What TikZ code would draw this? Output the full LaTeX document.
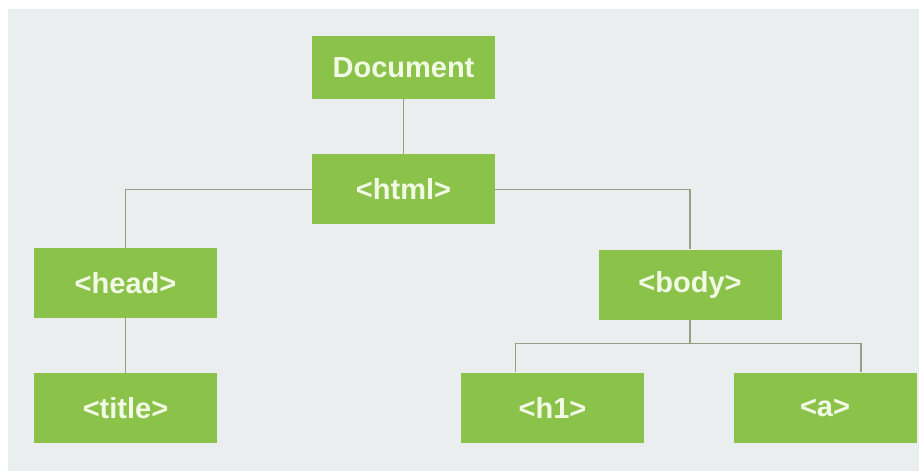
\documentclass[tikz,border=0pt]{standalone}
\usepackage{fontspec}
\setsansfont{Liberation Sans}
\usetikzlibrary{positioning}
\usepackage{xcolor}

\definecolor{leafgreen}{RGB}{139,195,74}
\definecolor{paper}{RGB}{234,238,239}
\definecolor{twig}{RGB}{150,160,128}
\definecolor{tagtext}{RGB}{242,250,230}

\begin{document}
\begin{tikzpicture}[
    x=1pt, y=1pt,
    tag/.style={draw=none, rectangle, fill=leafgreen, minimum width=183pt, minimum height=70pt, inner sep=0pt, text=tagtext, font=\sffamily\bfseries\fontsize{29}{31}\selectfont},
    link/.style={draw=twig, line width=1.4pt}
]

% backdrop
\fill[white] (0,0) rectangle (919,-471);
\fill[paper] (8,-9) rectangle (919,-471);
\useasboundingbox (0,0) rectangle (919,-471);

\node[tag, minimum height=63pt] (doc) at (403.5,-67.5) {Document};
\node[tag, below=55pt of doc] (html) {<html>};
\node[tag] (head) at (125.5,-283) {<head>};
\node[tag, below=55pt of head] (title) {<title>};
\node[tag] (body) at (690,-284.5) {<body>};
\node[tag] (h1) at (552.5,-407.5) {<h1>};
\node[tag] (a) at (825,-407.5) {<a>};

\draw[link] (doc) -- (html);
\draw[link] (html.west) -| (head.north);
\draw[link] (html.east) -| (body.north);
\draw[link] (head) -- (title);
\draw[link] (body.south) -- ++(0,-24) -| ([xshift=-37pt]h1.north);
\draw[link] (body.south) ++(0,-24) -| ([xshift=36pt]a.north);

\end{tikzpicture}
\end{document}
